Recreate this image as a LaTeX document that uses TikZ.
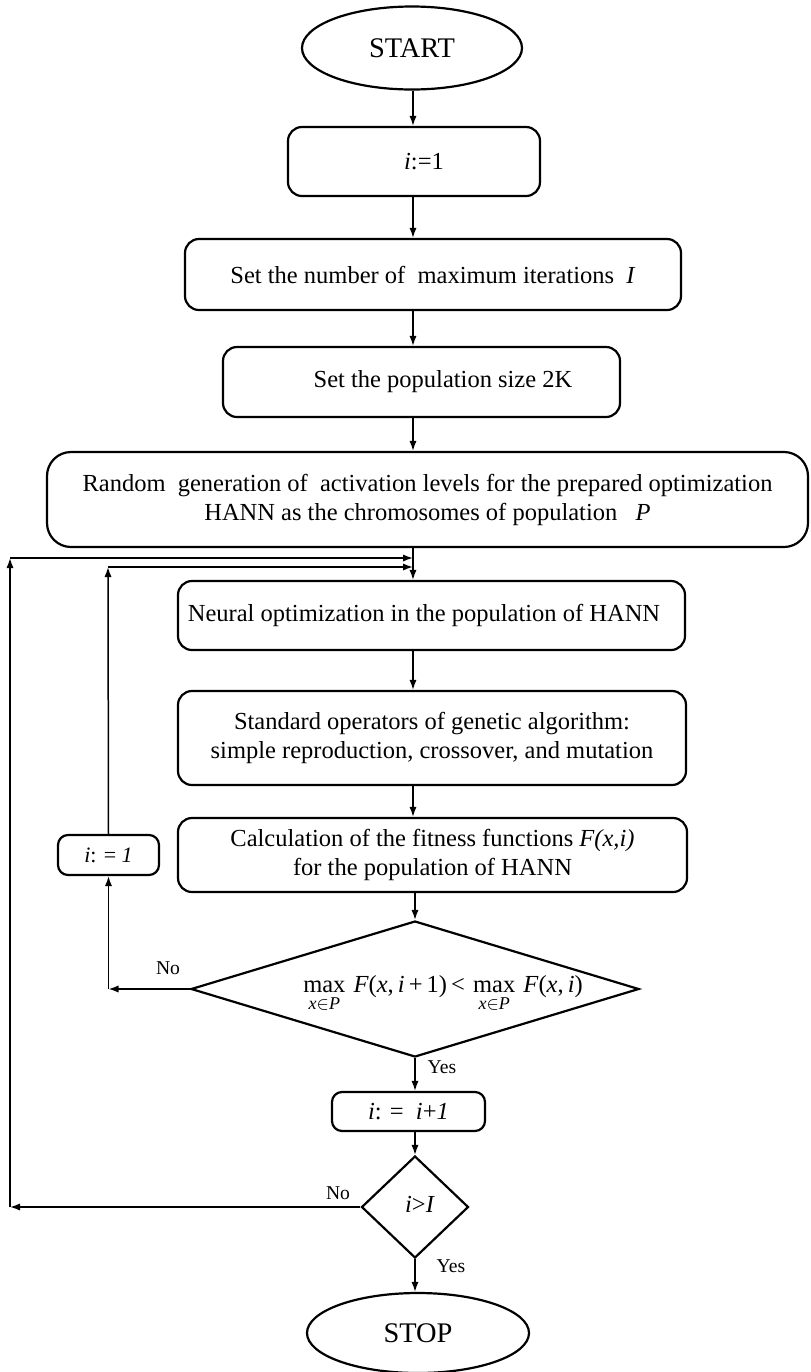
\documentclass[tikz,border=0pt]{standalone}
\usepackage{fontspec}
\setmainfont{Liberation Serif}
\usetikzlibrary{shapes.geometric,arrows.meta}
\newcommand{\mysub}{\lower2pt\hbox{\fontsize{9}{10}\selectfont\textit{x}$\in$\textit{P}}}
\begin{document}
\begin{tikzpicture}[x=0.5pt,y=-0.5pt,
 box/.style={draw,line width=1.1pt,rounded corners=7pt,inner sep=0pt,align=center,font=\fontsize{12.25}{14.5}\selectfont},
 term/.style={draw,ellipse,line width=1.1pt,inner sep=0pt,font=\fontsize{14.2}{16}\selectfont},
 dec/.style={draw,diamond,line width=1.1pt,inner sep=0pt},
 txt/.style={inner sep=0pt,font=\fontsize{12.25}{14.5}\selectfont},
 arr/.style={line width=0.75pt,-{Latex[length=5pt,width=3.6pt]}},
 lbl/.style={font=\fontsize{9.8}{11}\selectfont,inner sep=0pt}]
\useasboundingbox (0,0) rectangle (810,1372);

\node[term,minimum width=110pt,minimum height=41.5pt] (start) at (412,48) {START};
\node[box,minimum width=126pt,minimum height=34.5pt] (i1) at (414,161.5) {\hspace*{10pt}\textit{i}:=1};
\node[box,minimum width=248pt,minimum height=35.5pt] (setI) at (433,274.5) {Set the number of\ \ maximum iterations\ \ \textit{I}};
\node[box,minimum width=198.5pt,minimum height=35pt] (pop) at (421.5,382) {\hspace*{21.5pt}Set the population size 2K};
\node[box,rounded corners=12pt,minimum width=380.5pt,minimum height=47.5pt] (rand) at (427.5,499.5) {Random\ \ generation of\ \ activation levels for the prepared optimization\\HANN as the chromosomes of population\ \ \ \textit{P}};
\node[box,minimum width=253.5pt,minimum height=34.5pt] (neural) at (431.5,615.5) {Neural optimization in the population of HANN\hspace*{7.5pt}};
\node[box,minimum width=254pt,minimum height=47pt] (ops) at (432,738) {Standard operators of genetic algorithm:\\simple reproduction, crossover, and mutation};
\node[box,minimum width=254.5pt,minimum height=37pt] (calc) at (432.5,855) {\raisebox{-3.5pt}{\begin{tabular}{@{}c@{}}Calculation of the fitness functions \textit{F(x,i)}\\for the population of HANN\end{tabular}}};
\node[box,rounded corners=5pt,minimum width=50.5pt,minimum height=20pt,font=\fontsize{11}{13}\selectfont] (i1b) at (108.5,855) {\textit{i}: = \textit{1}};
\node[dec,minimum width=224pt,minimum height=68pt] (d1) at (415,989) {};
\node[txt] (d1t) at (443,994) {$\mathop{\mbox{max}}\limits_{\mysub}\mbox{\,\textit{F}(\textit{x},\,\textit{i}\,+\,1)\,<\,}\mathop{\mbox{max}}\limits_{\mysub}\mbox{\,\textit{F}(\textit{x},\,\textit{i})}$};
\node[box,rounded corners=5pt,minimum width=76.5pt,minimum height=19.5pt] (iplus) at (408.5,1111.5) {\textit{i}: =\ \ \textit{i}+\textit{1}};
\node[dec,minimum width=53.5pt,minimum height=51pt] (d2) at (415,1207) {};
\node[txt] (d2t) at (420,1204) {\textit{i}>\textit{I}};
\node[term,minimum width=111pt,minimum height=40pt] (stop) at (418,1333) {STOP};

\node[lbl] (no1) at (168,968) {No};
\node[lbl] (yes1) at (442,1067) {Yes};
\node[lbl] (no2) at (338,1193) {No};
\node[lbl] (yes2) at (451,1266) {Yes};

\coordinate (col) at (413,0);
\coordinate (c1) at (108,567);
\coordinate (e1) at (413,567);
\coordinate (c2) at (10,558);
\coordinate (e2) at (413,558);

\draw[arr] (start.south -| col) -- (i1.north -| col);
\draw[arr] (i1.south -| col) -- (setI.north -| col);
\draw[arr] (setI.south -| col) -- (pop.north -| col);
\draw[arr] (pop.south -| col) -- (rand.north -| col);
\draw[arr] (rand.south -| col) -- (neural.north -| col);
\draw[arr] (neural.south -| col) -- (ops.north -| col);
\draw[arr] (ops.south -| col) -- (calc.north -| col);
\draw[arr] (calc.south -| d1.north) -- (d1.north);
\draw[arr] (d1.south) -- (d1.south |- iplus.north);
\draw[arr] (iplus.south -| d2.north) -- (d2.north);
\draw[arr] (d2.south) -- (d2.south |- stop.north);

\draw[arr] (d1.west) -- (d1.west -| i1b.south);
\draw[arr] (d1.west -| i1b.south) -- (i1b.south);
\draw[arr] (i1b.north) -- (c1);
\draw[arr] (c1) -- (e1);
\draw[arr] (d2.west) -- (c2 |- d2.west);
\draw[arr] (c2 |- d2.west) -- (c2);
\draw[arr] (c2) -- (e2);
\end{tikzpicture}
\end{document}
